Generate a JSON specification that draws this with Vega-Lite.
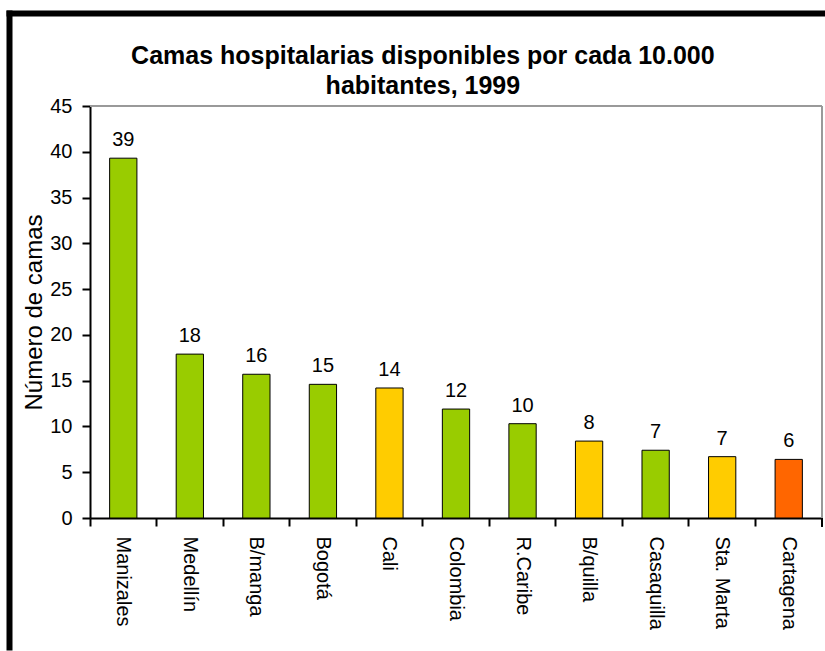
{
  "$schema": "https://vega.github.io/schema/vega-lite/v6.json",
  "background": "white",
  "padding": {"left": 8, "top": 13, "right": 1, "bottom": 3},
  "spacing": 0,
  "config": {
    "font": "Liberation Sans",
    "view": {"stroke": null},
    "axis": {
      "labelFontSize": 20,
      "titleFontSize": 24,
      "titleFontWeight": "normal",
      "labelColor": "black",
      "titleColor": "black",
      "domainColor": "black",
      "tickColor": "black",
      "domainWidth": 2,
      "tickWidth": 2,
      "tickSize": 8,
      "labelPadding": 10,
      "grid": false
    }
  },
  "vconcat": [
    {
      "width": 816,
      "height": 1,
      "data": {"values": [{}]},
      "mark": {"type": "tick", "opacity": 0},
      "encoding": {
        "x": {
          "datum": 0,
          "type": "quantitative",
          "scale": {"domain": [0, 1]},
          "axis": {"orient": "top", "title": null, "labels": false, "ticks": false, "domainWidth": 6, "domainColor": "black", "domainCap": "square"}
        }
      }
    },
    {
      "spacing": 12,
      "hconcat": [
        {
          "width": 1,
          "height": 541,
          "data": {"values": [{}]},
          "mark": {"type": "tick", "opacity": 0},
          "encoding": {
            "y": {
              "datum": 0,
              "type": "quantitative",
              "scale": {"domain": [0, 1], "range": [541, -93]},
              "axis": {"orient": "left", "title": null, "labels": false, "ticks": false, "domainWidth": 6, "domainColor": "black", "domainCap": "square"}
            }
          }
        },
        {
          "width": 732,
          "height": 412,
          "title": {
            "text": ["", "Camas hospitalarias disponibles por cada 10.000", "habitantes, 1999"],
            "fontSize": 25,
            "fontWeight": "bold",
            "lineHeight": 30,
            "color": "black",
            "anchor": "middle",
            "frame": "bounds",
            "offset": -3
          },
          "data": {
            "values": [
              {"ciudad": "Manizales", "camas": 39.3, "grupo": "A"},
              {"ciudad": "Medellín", "camas": 17.9, "grupo": "A"},
              {"ciudad": "B/manga", "camas": 15.7, "grupo": "A"},
              {"ciudad": "Bogotá", "camas": 14.6, "grupo": "A"},
              {"ciudad": "Cali", "camas": 14.2, "grupo": "B"},
              {"ciudad": "Colombia", "camas": 11.9, "grupo": "A"},
              {"ciudad": "R.Caribe", "camas": 10.3, "grupo": "A"},
              {"ciudad": "B/quilla", "camas": 8.4, "grupo": "B"},
              {"ciudad": "Casaquilla", "camas": 7.4, "grupo": "A"},
              {"ciudad": "Sta. Marta", "camas": 6.7, "grupo": "B"},
              {"ciudad": "Cartagena", "camas": 6.4, "grupo": "C"}
            ]
          },
          "resolve": {"axis": {"x": "independent", "y": "independent"}},
          "layer": [
            {
              "mark": {"type": "rule", "color": "#999999", "strokeWidth": 1},
              "encoding": {
                "y": {"datum": 45, "type": "quantitative", "axis": null}
              }
            },
            {
              "mark": {"type": "rule", "color": "#999999", "strokeWidth": 1},
              "encoding": {
                "x": {"datum": "Cartagena", "type": "nominal", "bandPosition": 1, "axis": null}
              }
            },
            {
              "mark": {"type": "bar", "width": {"band": 0.41}, "stroke": "black", "strokeWidth": 1},
              "encoding": {
                "x": {
                  "field": "ciudad",
                  "type": "nominal",
                  "scale": {
                    "domain": ["Manizales", "Medellín", "B/manga", "Bogotá", "Cali", "Colombia", "R.Caribe", "B/quilla", "Casaquilla", "Sta. Marta", "Cartagena"],
                    "paddingInner": 0,
                    "paddingOuter": 0
                  },
                  "axis": {"title": null, "labelAngle": 90, "bandPosition": 0}
                },
                "y": {
                  "field": "camas",
                  "type": "quantitative",
                  "scale": {"domain": [0, 45], "nice": false},
                  "axis": {"title": "Número de camas", "values": [0, 5, 10, 15, 20, 25, 30, 35, 40, 45], "titlePadding": 3}
                },
                "color": {
                  "field": "grupo",
                  "type": "nominal",
                  "scale": {"domain": ["A", "B", "C"], "range": ["#99CC00", "#FFCC00", "#FF6600"]},
                  "legend": null
                }
              }
            },
            {
              "mark": {"type": "rule", "color": "black", "strokeWidth": 2},
              "encoding": {
                "x": {"datum": "Cartagena", "type": "nominal", "bandPosition": 1, "axis": null},
                "y": {"datum": 0, "type": "quantitative", "axis": null},
                "y2": {"datum": -0.9}
              }
            },
            {
              "mark": {"type": "text", "baseline": "alphabetic", "dy": -12, "fontSize": 20, "color": "black"},
              "encoding": {
                "x": {"field": "ciudad", "type": "nominal", "axis": null},
                "y": {"field": "camas", "type": "quantitative", "axis": null},
                "text": {"field": "camas", "type": "quantitative", "format": ".0f"}
              }
            }
          ]
        }
      ]
    }
  ]
}
